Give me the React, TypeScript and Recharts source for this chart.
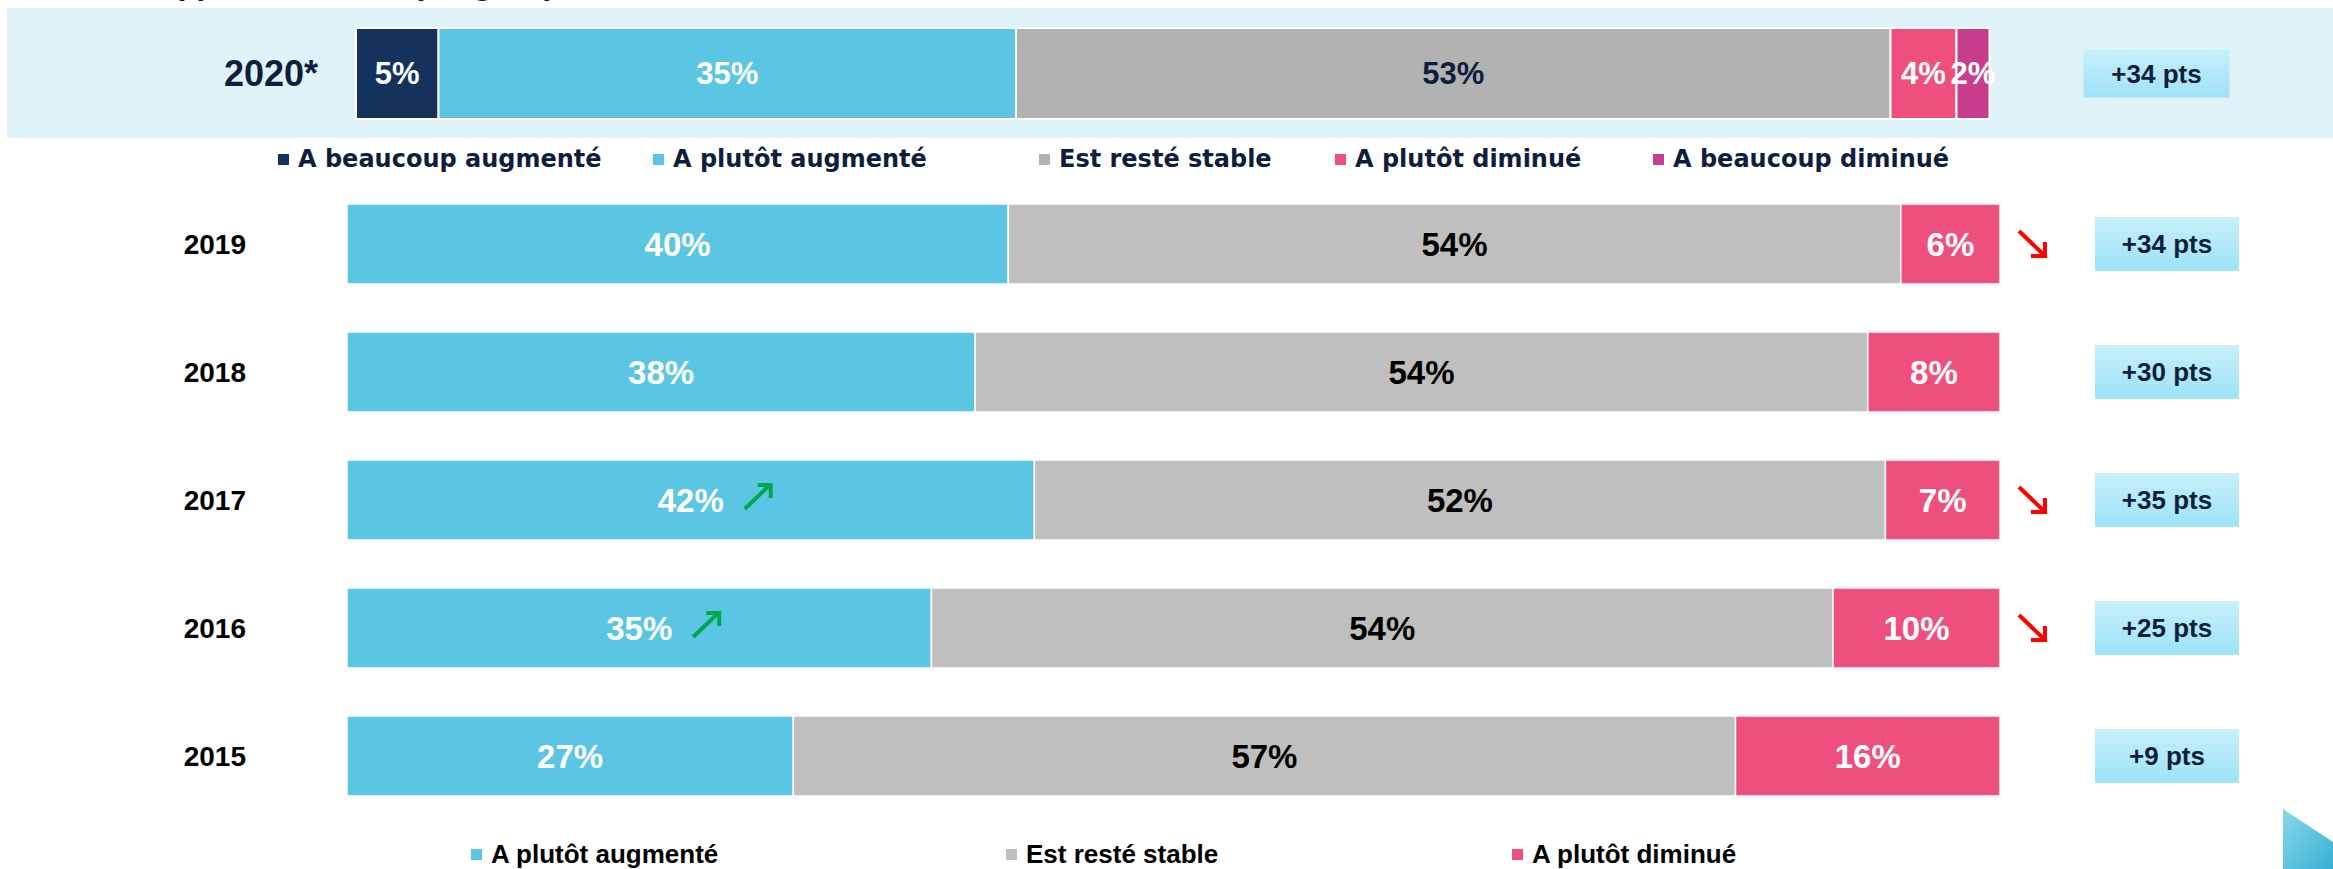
import React from "react";
import { BarChart, Bar, XAxis, YAxis, LabelList } from "recharts";

// 2020 row (top panel)
const topYears = ["2020*"];
const topBeaucoupAug = [5];
const topPlutotAug = [35];
const topStable = [53];
const topPlutotDim = [4];
const topBeaucoupDim = [2];
const topPts = ["+34 pts"];

// 2015-2019 rows
const years = ["2019", "2018", "2017", "2016", "2015"];
const plutotAug = [40, 38, 42, 35, 27];
const stable = [54, 54, 52, 54, 57];
const plutotDim = [6, 8, 7, 10, 16];
const pts = ["+34 pts", "+30 pts", "+35 pts", "+25 pts", "+9 pts"];
const upTrend = [false, false, true, true, false];
const downTrend = [true, false, true, true, false];

const topSeries = ["A beaucoup augmenté", "A plutôt augmenté", "Est resté stable", "A plutôt diminué", "A beaucoup diminué"];
const lowSeries = ["A plutôt augmenté", "Est resté stable", "A plutôt diminué"];

const NAVY = "#14325b";
const CYAN = "#5bc6e3";
const GREY_TOP = "#b2b2b2";
const GREY = "#bfbfbf";
const PINK = "#ee4f7c";
const MAGENTA = "#c83e8e";
const INK = "#0f1e3c";

const topColors = [NAVY, CYAN, GREY_TOP, PINK, MAGENTA];
const lowColors = [CYAN, GREY, PINK];

const topData = topYears.map((year, i) => ({
  year,
  ba: topBeaucoupAug[i],
  pa: topPlutotAug[i],
  st: topStable[i],
  pd: topPlutotDim[i],
  bd: topBeaucoupDim[i],
}));

const lowData = years.map((year, i) => ({
  year,
  pa: plutotAug[i],
  st: stable[i],
  pd: plutotDim[i],
}));

const ARIAL = "'Liberation Sans', Arial, sans-serif";
const GOTHIC = "'DejaVu Sans', 'Liberation Sans', sans-serif";

function UpArrow({ x, y }: { x: number; y: number }) {
  return (
    <g stroke="#00a650" strokeWidth={4} fill="none">
      <line x1={x} y1={y + 12} x2={x + 24} y2={y - 11} />
      <polyline points={`${x + 13},${y - 12} ${x + 26},${y - 12} ${x + 26},${y + 1}`} />
    </g>
  );
}

function DownArrow({ x, y }: { x: number; y: number }) {
  return (
    <g stroke="#ff0000" strokeWidth={4} fill="none">
      <line x1={x} y1={y - 13} x2={x + 24} y2={y + 10} />
      <polyline points={`${x + 26},${y - 2} ${x + 26},${y + 12} ${x + 12},${y + 12}`} />
    </g>
  );
}

function PtsBox({ x, y, w, h, text }: { x: number; y: number; w: number; h: number; text: string }) {
  return (
    <g>
      <rect x={x} y={y} width={w} height={h} fill="url(#ptsGrad)" />
      <text x={x + w / 2} y={y + h / 2} textAnchor="middle" dominantBaseline="central"
        fontFamily={ARIAL} fontWeight="bold" fontSize={26} fill={INK}>{text}</text>
    </g>
  );
}

const topLabel = (values: number[], color: string, withPts = false) => (props: any) => {
  const { x, y, width, height, index } = props;
  const cx = x + width / 2;
  const cy = y + height / 2;
  return (
    <g>
      <text x={cx} y={cy} textAnchor="middle" dominantBaseline="central"
        fontFamily={ARIAL} fontWeight="bold" fontSize={31} fill={color}>{values[index]}%</text>
      {withPts && <PtsBox x={x + width + 94} y={cy - 24} w={146} h={48} text={topPts[index]} />}
    </g>
  );
};

const lowLabel = (values: number[], color: string, kind: "up" | "mid" | "down") => (props: any) => {
  const { x, y, width, height, index } = props;
  const cx = x + width / 2;
  const cy = y + height / 2;
  return (
    <g>
      <text x={cx} y={cy} textAnchor="middle" dominantBaseline="central"
        fontFamily={ARIAL} fontWeight="bold" fontSize={33} fill={color}>{values[index]}%</text>
      {kind === "up" && upTrend[index] && <UpArrow x={cx + 54} y={cy - 3} />}
      {kind === "down" && downTrend[index] && <DownArrow x={x + width + 19} y={cy} />}
      {kind === "down" && <PtsBox x={x + width + 95} y={cy - 27} w={144} h={54} text={pts[index]} />}
    </g>
  );
};

function Defs() {
  return (
    <defs>
      <linearGradient id="ptsGrad" x1="0" y1="0" x2="0" y2="1">
        <stop offset="0%" stopColor="#c8effb" />
        <stop offset="100%" stopColor="#9de2f8" />
      </linearGradient>
    </defs>
  );
}

// legend rows drawn as html; slots are the left edge of each marker
function Legend({ names, colors, slots, top, font, size, color }: any) {
  return (
    <div style={{ position: "absolute", left: 0, top, width: 2333, height: size + 8,
      fontFamily: font, fontWeight: "bold", fontSize: size, color, whiteSpace: "nowrap" }}>
      {names.map((n: string, i: number) => (
        <div key={n} style={{ position: "absolute", left: slots[i], top: 0, display: "flex", alignItems: "center" }}>
          <span style={{ display: "inline-block", width: 11, height: 11, background: colors[i], marginRight: 9 }} />
          <span>{n}</span>
        </div>
      ))}
    </div>
  );
}

const topLegendSlots = [278, 653, 1039, 1335, 1653];
const lowLegendSlots = [471, 1006, 1512];

export default function App() {
  return (
    <div style={{ position: "absolute", left: 0, top: 0, width: 2333, height: 869, background: "#fff", overflow: "hidden" }}>
      <div style={{ position: "absolute", left: 140, top: -29, fontFamily: GOTHIC, fontWeight: "bold", fontSize: 26, color: INK, whiteSpace: "nowrap" }}>
        Rappel : évolution par groupe (2020)
      </div>
      <div style={{ position: "absolute", left: 7, top: 8, width: 2326, height: 130, background: "#dff2f7" }} />

      <div style={{ position: "absolute", left: 0, top: 0 }}>
        <BarChart width={2333} height={140} data={topData} layout="vertical"
          margin={{ top: 28, right: 327, bottom: 21, left: 0 }} barCategoryGap={0}>
          <Defs />
          <XAxis type="number" domain={[0, 100]} hide />
          <YAxis type="category" dataKey="year" width={356} axisLine={false} tickLine={false}
            tick={(p: any) => (
              <text x={318} y={p.y} textAnchor="end" dominantBaseline="central"
                fontFamily={ARIAL} fontWeight="bold" fontSize={36} fill={INK}>{p.payload.value}</text>
            )} />
          <Bar dataKey="ba" stackId="a" name={topSeries[0]} fill={topColors[0]} stroke="#fff" strokeWidth={2} isAnimationActive={false}>
            <LabelList dataKey="ba" content={topLabel(topBeaucoupAug, "#fff")} />
          </Bar>
          <Bar dataKey="pa" stackId="a" name={topSeries[1]} fill={topColors[1]} stroke="#fff" strokeWidth={2} isAnimationActive={false}>
            <LabelList dataKey="pa" content={topLabel(topPlutotAug, "#fff")} />
          </Bar>
          <Bar dataKey="st" stackId="a" name={topSeries[2]} fill={topColors[2]} stroke="#fff" strokeWidth={2} isAnimationActive={false}>
            <LabelList dataKey="st" content={topLabel(topStable, INK)} />
          </Bar>
          <Bar dataKey="pd" stackId="a" name={topSeries[3]} fill={topColors[3]} stroke="#fff" strokeWidth={2} isAnimationActive={false}>
            <LabelList dataKey="pd" content={topLabel(topPlutotDim, "#fff")} />
          </Bar>
          <Bar dataKey="bd" stackId="a" name={topSeries[4]} fill={topColors[4]} stroke="#fff" strokeWidth={2} isAnimationActive={false}>
            <LabelList dataKey="bd" content={topLabel(topBeaucoupDim, "#fff", true)} />
          </Bar>
        </BarChart>
      </div>

      <Legend names={topSeries} colors={topColors} slots={topLegendSlots} top={145} font={GOTHIC} size={24} color={INK} />

      <div style={{ position: "absolute", left: 0, top: 170 }}>
        <BarChart width={2333} height={660} data={lowData} layout="vertical" stackOffset="expand"
          margin={{ top: 10, right: 333, bottom: 10, left: 0 }} barSize={80}>
          <Defs />
          <XAxis type="number" domain={[0, 1]} hide />
          <YAxis type="category" dataKey="year" width={347} axisLine={false} tickLine={false}
            tick={(p: any) => (
              <text x={246} y={p.y} textAnchor="end" dominantBaseline="central"
                fontFamily={ARIAL} fontWeight="bold" fontSize={28} fill="#000">{p.payload.value}</text>
            )} />
          <Bar dataKey="pa" stackId="a" name={lowSeries[0]} fill={lowColors[0]} stroke="#fff" strokeWidth={1.5} isAnimationActive={false}>
            <LabelList dataKey="pa" content={lowLabel(plutotAug, "#fff", "up")} />
          </Bar>
          <Bar dataKey="st" stackId="a" name={lowSeries[1]} fill={lowColors[1]} stroke="#fff" strokeWidth={1.5} isAnimationActive={false}>
            <LabelList dataKey="st" content={lowLabel(stable, "#000", "mid")} />
          </Bar>
          <Bar dataKey="pd" stackId="a" name={lowSeries[2]} fill={lowColors[2]} stroke="#fff" strokeWidth={1.5} isAnimationActive={false}>
            <LabelList dataKey="pd" content={lowLabel(plutotDim, "#fff", "down")} />
          </Bar>
        </BarChart>
      </div>

      <Legend names={lowSeries} colors={lowColors} slots={lowLegendSlots} top={839} font={ARIAL} size={26} color="#000" />

      <svg style={{ position: "absolute", left: 0, top: 0 }} width={2333} height={869} pointerEvents="none">
        <defs>
          <linearGradient id="cornerGrad" x1="0" y1="0" x2="1" y2="1">
            <stop offset="0%" stopColor="#8ad8ec" />
            <stop offset="100%" stopColor="#38b0d3" />
          </linearGradient>
        </defs>
        <polygon points="2283,809 2333,842 2333,869 2283,869" fill="url(#cornerGrad)" />
      </svg>
    </div>
  );
}
